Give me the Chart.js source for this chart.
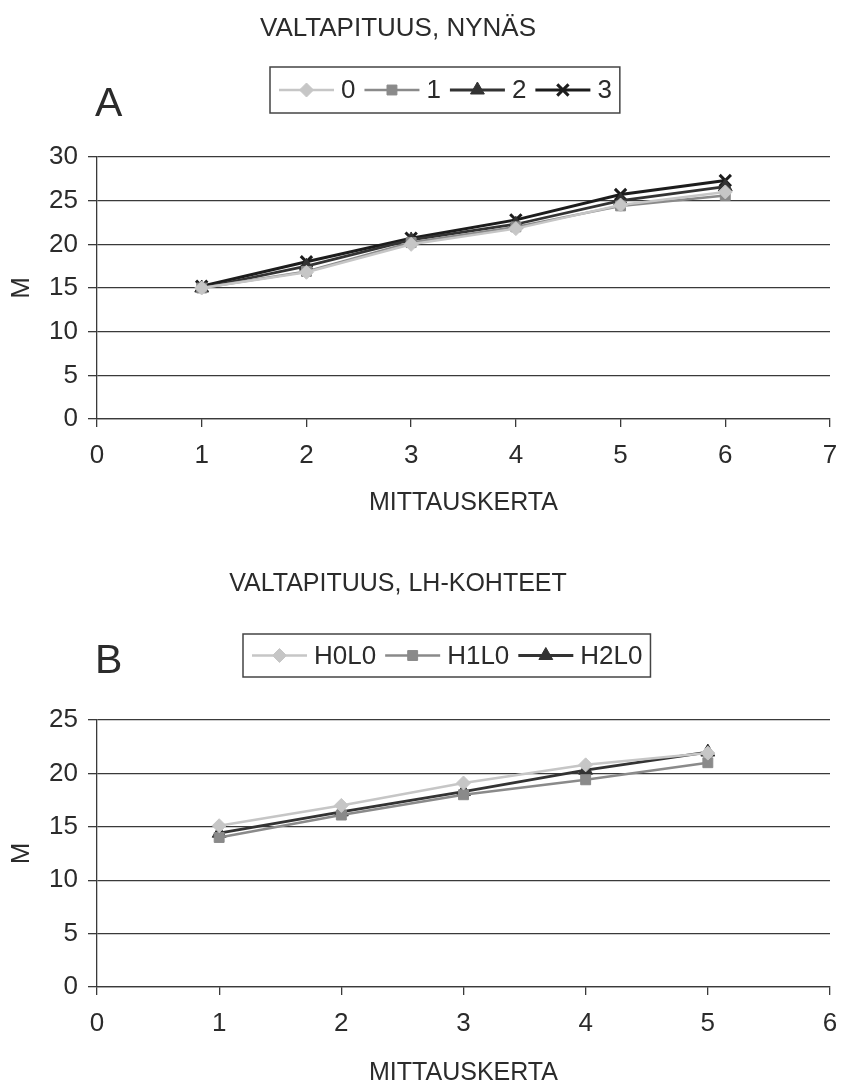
<!DOCTYPE html>
<html>
<head>
<meta charset="utf-8">
<script src="https://cdn.jsdelivr.net/npm/chart.js@4.4.0/dist/chart.umd.min.js"></script>
<style>
  html, body { margin: 0; padding: 0; background: #fff; }
  #wrap { position: relative; width: 842px; height: 1083px; overflow: hidden; }
  #wrap canvas { position: absolute; left: 0; }
</style>
</head>
<body>
<div id="wrap">
  <canvas id="chartA" width="842" height="530" style="top:0px"></canvas>
  <canvas id="chartB" width="842" height="553" style="top:540px"></canvas>
</div>
<script>
// --- Kaavio A: valtapituus, Nynäs ---
const mittausA = [1, 2, 3, 4, 5, 6];
const nimetA = ['0', '1', '2', '3'];
const nynas0 = [15.0, 16.8, 20.0, 21.8, 24.5, 26.0];
const nynas1 = [15.0, 16.9, 20.2, 22.0, 24.4, 25.6];
const nynas2 = [15.0, 17.5, 20.5, 22.3, 25.0, 26.6];
const nynas3 = [15.2, 18.0, 20.7, 22.8, 25.7, 27.3];
const yTicksA = [0, 5, 10, 15, 20, 25, 30];
const xTicksA = [0, 1, 2, 3, 4, 5, 6, 7];

// --- Kaavio B: valtapituus, LH-kohteet ---
const mittausB = [1, 2, 3, 4, 5];
const nimetB = ['H0L0', 'H1L0', 'H2L0'];
const lh0 = [15.1, 17.0, 19.1, 20.8, 21.9];
const lh1 = [14.0, 16.1, 18.0, 19.4, 21.0];
const lh2 = [14.4, 16.4, 18.3, 20.3, 22.0];
const yTicksB = [0, 5, 10, 15, 20, 25];
const xTicksB = [0, 1, 2, 3, 4, 5, 6];

const FONT = '"Liberation Sans", Arial, sans-serif';
const TEXT = '#2b2b2b';
const GRID = '#3a3a3a';

// sarjojen tyylit (harmaasävyt kuten alkuperäisessä)
const tyylit = [
  { color: '#c6c6c6', pointStyle: 'rectRot', radius: 7, width: 2.5 },
  { color: '#8a8a8a', pointStyle: 'rect', radius: 7, width: 2.5 },
  { color: '#333333', pointStyle: 'triangle', radius: 8, width: 2.8 },
  { color: '#1c1c1c', pointStyle: 'crossRot', radius: 8, width: 3 }
];

function sarja(nimi, xs, ys, t) {
  return {
    label: nimi,
    data: xs.map((x, i) => ({ x: x, y: ys[i] })),
    borderColor: t.color,
    backgroundColor: t.color,
    pointBackgroundColor: t.color,
    pointBorderColor: t.color,
    borderWidth: t.width,
    pointBorderWidth: t.pointStyle === 'crossRot' ? 3 : 1,
    pointStyle: t.pointStyle,
    pointRadius: t.radius,
    tension: 0
  };
}

// otsikko, kirjain ja kehystetty selite piirretään itse
const kehysPlugin = {
  id: 'kehys',
  afterDraw(chart, args, o) {
    const ctx = chart.ctx;
    ctx.save();
    ctx.fillStyle = TEXT;
    ctx.textBaseline = 'alphabetic';
    ctx.textAlign = 'center';
    ctx.font = o.titleSize + 'px ' + FONT;
    ctx.fillText(o.title, o.titleX, o.titleY);

    ctx.textAlign = 'left';
    ctx.font = '41px ' + FONT;
    ctx.fillText(o.letter, 95, o.letterY);

    // selite
    ctx.font = '26px ' + FONT;
    const cy = (o.boxTop + o.boxBottom) / 2;
    let x = o.boxLeft + 9;
    chart.data.datasets.forEach((ds, i) => {
      ctx.strokeStyle = ds.borderColor;
      ctx.lineWidth = ds.borderWidth;
      ctx.beginPath();
      ctx.moveTo(x, cy);
      ctx.lineTo(x + 55, cy);
      ctx.stroke();
      ctx.fillStyle = ds.pointBackgroundColor;
      ctx.strokeStyle = ds.pointBorderColor;
      ctx.lineWidth = ds.pointBorderWidth;
      Chart.helpers.drawPoint(ctx, {
        pointStyle: ds.pointStyle, radius: ds.pointRadius, rotation: 0, borderWidth: ds.pointBorderWidth
      }, x + 27.5, cy);
      x += 55 + o.gap;
      ctx.fillStyle = TEXT;
      ctx.textBaseline = 'middle';
      ctx.fillText(ds.label, x, cy + 1);
      x += ctx.measureText(ds.label).width + o.gap + 2;
    });
    const right = x - 1;
    ctx.strokeStyle = '#444';
    ctx.lineWidth = 1.5;
    ctx.strokeRect(o.boxLeft, o.boxTop, right - o.boxLeft, o.boxBottom - o.boxTop);
    ctx.restore();
  }
};

function asetukset(xTicks, yTicks, plotTop, xHeight, titleGap, kehys) {
  return {
    responsive: false,
    animation: false,
    devicePixelRatio: 1,
    layout: { padding: { top: plotTop, right: 12, left: 0, bottom: 0 } },
    plugins: { legend: { display: false }, tooltip: { enabled: false }, kehys: kehys },
    scales: {
      x: {
        type: 'linear',
        min: xTicks[0], max: xTicks[xTicks.length - 1],
        afterBuildTicks: s => { s.ticks = xTicks.map(v => ({ value: v })); },
        afterFit: s => { s.height = xHeight; s.paddingLeft = 0; s.paddingRight = 0; },
        ticks: { font: { family: FONT, size: 26 }, color: TEXT, padding: 13, maxRotation: 0 },
        grid: { drawOnChartArea: false, drawTicks: true, tickLength: 8, tickColor: GRID, lineWidth: 1.3 },
        border: { display: true, color: GRID, width: 1.3 },
        title: { display: true, text: 'MITTAUSKERTA', font: { family: FONT, size: 25 }, color: TEXT, padding: { top: 0, bottom: titleGap } }
      },
      y: {
        min: yTicks[0], max: yTicks[yTicks.length - 1],
        afterBuildTicks: s => { s.ticks = yTicks.map(v => ({ value: v })); },
        afterFit: s => { s.width = 97; },
        ticks: { font: { family: FONT, size: 26 }, color: TEXT, padding: 10 },
        grid: { color: GRID, lineWidth: 1.3, drawTicks: true, tickLength: 9, tickColor: GRID },
        border: { display: true, color: GRID, width: 1.3 },
        title: { display: true, text: 'M', font: { family: FONT, size: 26 }, color: TEXT, padding: { top: 6, bottom: 0 } }
      }
    }
  };
}

new Chart(document.getElementById('chartA'), {
  type: 'line',
  data: {
    datasets: [
      sarja(nimetA[0], mittausA, nynas0, tyylit[0]),
      sarja(nimetA[1], mittausA, nynas1, tyylit[1]),
      sarja(nimetA[2], mittausA, nynas2, tyylit[2]),
      sarja(nimetA[3], mittausA, nynas3, tyylit[3])
    ]
  },
  options: asetukset(xTicksA, yTicksA, 157, 111, 12, {
    title: 'VALTAPITUUS, NYNÄS', titleSize: 26, titleX: 398, titleY: 36,
    letter: 'A', letterY: 116,
    boxLeft: 270, boxTop: 67, boxBottom: 113, gap: 7
  }),
  plugins: [kehysPlugin]
});

new Chart(document.getElementById('chartB'), {
  type: 'line',
  data: {
    datasets: [
      sarja(nimetB[0], mittausB, lh0, tyylit[0]),
      sarja(nimetB[1], mittausB, lh1, tyylit[1]),
      sarja(nimetB[2], mittausB, lh2, tyylit[2])
    ]
  },
  options: asetukset(xTicksB, yTicksB, 180, 106, 5, {
    title: 'VALTAPITUUS, LH-KOHTEET', titleSize: 25, titleX: 398, titleY: 51,
    letter: 'B', letterY: 133,
    boxLeft: 243, boxTop: 94, boxBottom: 137, gap: 7
  }),
  plugins: [kehysPlugin]
});
</script>
</body>
</html>
